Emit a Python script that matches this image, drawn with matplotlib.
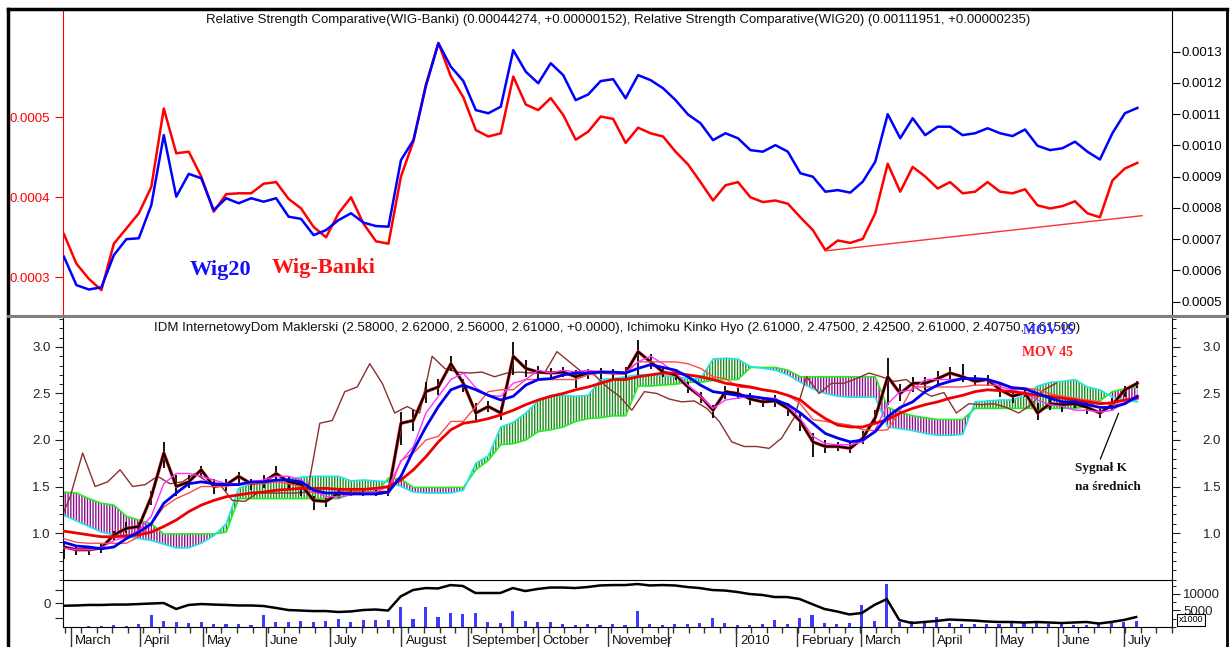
import numpy as np
import matplotlib.pyplot as plt
from matplotlib.lines import Line2D
from matplotlib.ticker import FixedLocator, MultipleLocator

plt.rcParams['font.family'] = ['Liberation Sans', 'DejaVu Sans']
plt.rcParams['hatch.linewidth'] = 1.0

# x axis = trading session counted from 25 Feb 2009, one reading every 4 sessions
day = np.arange(0, 348, 4)

# first session of each month (same session count) and its label
month_day = [2.2, 24.4, 44.6, 64.7, 85.3, 108.3, 129.5, 152.2, 174.4, 193.9,
             215.7, 235.3, 255.8, 278.8, 299.0, 318.9, 340.1]
month_lbl = ['March', 'April', 'May', 'June', 'July', 'August', 'September',
             'October', 'November', '', '2010', 'February', 'March', 'April',
             'May', 'June', 'July']

# --- top panel: relative strength comparative (values x 1e-4)
banki_rsc = np.array([
    3.54, 3.17, 2.98, 2.84, 3.42, 3.61, 3.80, 4.13, 5.11, 4.55, 4.57, 4.26, 3.82, 4.04, 4.05,
    4.05, 4.17, 4.19, 3.98, 3.86, 3.63, 3.50, 3.80, 4.00, 3.67, 3.45, 3.42, 4.26, 4.70, 5.41,
    5.93, 5.51, 5.25, 4.84, 4.76, 4.80, 5.51, 5.16, 5.09, 5.24, 5.03, 4.72, 4.82, 5.01, 4.98,
    4.68, 4.87, 4.80, 4.76, 4.57, 4.41, 4.19, 3.96, 4.15, 4.19, 4.00, 3.94, 3.96, 3.92, 3.75,
    3.59, 3.34, 3.46, 3.43, 3.48, 3.80, 4.42, 4.07, 4.38, 4.26, 4.11, 4.19, 4.05, 4.07, 4.19,
    4.07, 4.05, 4.10, 3.90, 3.86, 3.89, 3.95, 3.80, 3.75, 4.21, 4.36, 4.43]) / 1e4
wig20_rsc = np.array([
    6.44, 5.53, 5.39, 5.46, 6.49, 7.00, 7.03, 8.09, 10.33, 8.36, 9.09, 8.95, 7.93, 8.31, 8.15,
    8.31, 8.20, 8.31, 7.72, 7.65, 7.13, 7.29, 7.61, 7.83, 7.53, 7.42, 7.40, 9.53, 10.17, 11.90,
    13.27, 12.52, 12.06, 11.13, 11.03, 11.24, 13.05, 12.36, 11.99, 12.63, 12.25, 11.45, 11.63, 12.06, 12.12,
    11.51, 12.25, 12.09, 11.83, 11.45, 10.99, 10.71, 10.17, 10.39, 10.23, 9.85, 9.80, 10.01, 9.80, 9.11,
    9.00, 8.52, 8.57, 8.49, 8.84, 9.48, 11.00, 10.23, 10.87, 10.33, 10.60, 10.60, 10.33, 10.39, 10.55,
    10.39, 10.30, 10.51, 9.99, 9.85, 9.91, 10.12, 9.80, 9.55, 10.39, 11.03, 11.20]) / 1e4
trend_day = [244, 345.5]
trend_val = np.array([3.33, 3.77]) / 1e4

# --- middle panel: IDM price + averages + Ichimoku
close = [0.85, 0.82, 0.82, 0.84, 0.98, 1.05, 1.07, 1.39, 1.86, 1.50, 1.55, 1.68, 1.50, 1.52, 1.61, 1.53, 1.55, 1.64, 1.55, 1.52, 1.35, 1.34, 1.43,
         1.43, 1.43, 1.43, 1.44, 2.18, 2.21, 2.52, 2.57, 2.82, 2.61, 2.29, 2.36, 2.29, 2.90, 2.77, 2.73, 2.72, 2.73, 2.68, 2.72, 2.73, 2.72, 2.72,
         2.95, 2.84, 2.73, 2.70, 2.57, 2.47, 2.32, 2.52, 2.50, 2.44, 2.41, 2.42, 2.34, 2.20, 1.98, 1.93, 1.93, 1.91, 2.02, 2.24, 2.68, 2.50,
         2.61, 2.61, 2.66, 2.72, 2.68, 2.63, 2.65, 2.54, 2.47, 2.51, 2.29, 2.39, 2.38, 2.39, 2.35, 2.29, 2.38, 2.54, 2.61]
high = [0.88, 0.86, 0.85, 0.88, 1.02, 1.12, 1.12, 1.45, 1.98, 1.62, 1.62, 1.72, 1.58, 1.58, 1.66, 1.58, 1.62, 1.72, 1.60, 1.56, 1.40, 1.38, 1.46,
        1.46, 1.46, 1.46, 1.50, 2.30, 2.32, 2.62, 2.66, 2.90, 2.66, 2.40, 2.42, 2.36, 3.05, 2.86, 2.80, 2.77, 2.78, 2.75, 2.76, 2.77, 2.76, 2.78,
        3.08, 2.92, 2.80, 2.76, 2.62, 2.52, 2.38, 2.58, 2.56, 2.50, 2.46, 2.48, 2.40, 2.28, 2.08, 2.00, 1.98, 1.98, 2.10, 2.32, 2.88, 2.60,
        2.68, 2.68, 2.74, 2.78, 2.82, 2.70, 2.70, 2.62, 2.53, 2.56, 2.40, 2.44, 2.42, 2.45, 2.40, 2.33, 2.45, 2.58, 2.63]
low = [0.72, 0.76, 0.76, 0.78, 0.92, 1.00, 1.02, 1.30, 1.70, 1.40, 1.48, 1.60, 1.42, 1.45, 1.52, 1.46, 1.48, 1.55, 1.48, 1.40, 1.25, 1.28, 1.38,
       1.40, 1.40, 1.40, 1.40, 1.95, 2.10, 2.40, 2.48, 2.74, 2.52, 2.20, 2.30, 2.22, 2.70, 2.68, 2.66, 2.64, 2.68, 2.56, 2.66, 2.66, 2.66, 2.66,
       2.70, 2.76, 2.68, 2.64, 2.50, 2.40, 2.24, 2.44, 2.44, 2.38, 2.36, 2.36, 2.26, 2.10, 1.82, 1.86, 1.88, 1.86, 1.96, 2.18, 2.38, 2.42,
       2.52, 2.54, 2.60, 2.64, 2.62, 2.58, 2.58, 2.46, 2.40, 2.46, 2.22, 2.32, 2.30, 2.34, 2.28, 2.24, 2.32, 2.46, 2.56]
mov15 = [0.90, 0.86, 0.85, 0.83, 0.85, 0.94, 1.01, 1.10, 1.32, 1.43, 1.53, 1.55, 1.53, 1.52, 1.52, 1.55, 1.55, 1.57, 1.57, 1.55, 1.46, 1.43, 1.43,
         1.42, 1.42, 1.42, 1.44, 1.61, 1.89, 2.14, 2.36, 2.54, 2.59, 2.54, 2.48, 2.43, 2.47, 2.59, 2.65, 2.66, 2.70, 2.72, 2.72, 2.73, 2.73, 2.72,
         2.77, 2.81, 2.78, 2.75, 2.68, 2.59, 2.52, 2.50, 2.48, 2.47, 2.45, 2.43, 2.38, 2.29, 2.18, 2.07, 2.02, 1.98, 2.00, 2.09, 2.25, 2.35,
         2.41, 2.52, 2.59, 2.63, 2.66, 2.66, 2.65, 2.61, 2.56, 2.55, 2.50, 2.45, 2.41, 2.41, 2.38, 2.35, 2.35, 2.39, 2.47]
mov45 = [1.02, 1.00, 0.98, 0.96, 0.96, 0.97, 0.98, 1.01, 1.07, 1.14, 1.23, 1.30, 1.35, 1.39, 1.41, 1.43, 1.44, 1.46, 1.47, 1.48, 1.48, 1.48, 1.47,
         1.47, 1.47, 1.48, 1.50, 1.57, 1.68, 1.82, 1.98, 2.11, 2.18, 2.20, 2.23, 2.27, 2.32, 2.38, 2.43, 2.47, 2.50, 2.54, 2.57, 2.61, 2.65, 2.65,
         2.68, 2.70, 2.72, 2.72, 2.70, 2.68, 2.65, 2.61, 2.59, 2.57, 2.54, 2.52, 2.48, 2.43, 2.32, 2.23, 2.16, 2.14, 2.14, 2.18, 2.22, 2.29,
         2.34, 2.38, 2.41, 2.45, 2.48, 2.52, 2.54, 2.53, 2.52, 2.50, 2.48, 2.47, 2.45, 2.43, 2.41, 2.39, 2.40, 2.43, 2.45]
tenkan = [0.84, 0.82, 0.82, 0.84, 0.92, 0.96, 1.03, 1.18, 1.53, 1.64, 1.64, 1.61, 1.57, 1.53, 1.53, 1.55, 1.57, 1.61, 1.61, 1.57, 1.46, 1.39, 1.39,
          1.41, 1.43, 1.44, 1.50, 1.77, 1.93, 2.29, 2.47, 2.65, 2.72, 2.56, 2.48, 2.47, 2.61, 2.65, 2.75, 2.72, 2.75, 2.73, 2.75, 2.73, 2.72, 2.72,
          2.84, 2.90, 2.82, 2.72, 2.59, 2.47, 2.34, 2.43, 2.45, 2.47, 2.45, 2.45, 2.36, 2.23, 2.04, 1.96, 1.95, 1.95, 1.98, 2.11, 2.39, 2.52,
          2.54, 2.65, 2.65, 2.65, 2.66, 2.65, 2.65, 2.57, 2.54, 2.50, 2.43, 2.38, 2.36, 2.32, 2.32, 2.30, 2.32, 2.41, 2.48]
kijun = [0.94, 0.90, 0.89, 0.89, 0.89, 0.89, 0.96, 1.10, 1.28, 1.37, 1.43, 1.50, 1.50, 1.50, 1.53, 1.53, 1.53, 1.55, 1.53, 1.50, 1.43, 1.43, 1.43,
         1.43, 1.43, 1.42, 1.43, 1.78, 1.86, 2.00, 2.04, 2.20, 2.20, 2.36, 2.52, 2.54, 2.54, 2.65, 2.65, 2.65, 2.65, 2.65, 2.70, 2.72, 2.72, 2.73,
         2.84, 2.84, 2.84, 2.84, 2.82, 2.77, 2.68, 2.66, 2.57, 2.56, 2.54, 2.52, 2.48, 2.39, 2.22, 2.20, 2.18, 2.16, 2.11, 2.10, 2.11, 2.32,
         2.57, 2.57, 2.57, 2.57, 2.57, 2.59, 2.59, 2.59, 2.57, 2.56, 2.54, 2.50, 2.47, 2.45, 2.43, 2.41, 2.38, 2.39, 2.47]
senkou_a = [1.19, 1.13, 1.07, 1.01, 0.98, 0.96, 0.94, 0.92, 0.88, 0.84, 0.84, 0.89, 0.97, 1.10, 1.48, 1.53, 1.55, 1.57, 1.58, 1.60, 1.61, 1.61, 1.61,
            1.56, 1.57, 1.56, 1.55, 1.50, 1.44, 1.43, 1.43, 1.43, 1.46, 1.75, 1.83, 2.14, 2.19, 2.29, 2.42, 2.48, 2.48, 2.47, 2.48, 2.65, 2.66, 2.68,
            2.70, 2.70, 2.69, 2.68, 2.66, 2.66, 2.87, 2.88, 2.87, 2.79, 2.77, 2.75, 2.70, 2.62, 2.55, 2.50, 2.47, 2.46, 2.46, 2.46, 2.14, 2.12,
            2.10, 2.07, 2.05, 2.05, 2.06, 2.41, 2.42, 2.43, 2.43, 2.48, 2.58, 2.62, 2.63, 2.65, 2.57, 2.54, 2.46, 2.43, 2.41]
senkou_b = [1.44, 1.43, 1.37, 1.32, 1.30, 1.18, 1.14, 1.10, 0.99, 0.99, 0.99, 0.99, 0.99, 1.01, 1.37, 1.37, 1.37, 1.37, 1.37, 1.37, 1.37, 1.37, 1.37,
            1.42, 1.42, 1.43, 1.59, 1.58, 1.49, 1.49, 1.49, 1.49, 1.49, 1.68, 1.78, 1.95, 1.96, 2.00, 2.09, 2.11, 2.14, 2.20, 2.23, 2.24, 2.26, 2.26,
            2.58, 2.58, 2.59, 2.60, 2.62, 2.62, 2.64, 2.65, 2.65, 2.78, 2.78, 2.78, 2.75, 2.68, 2.68, 2.68, 2.68, 2.68, 2.68, 2.68, 2.35, 2.30,
            2.26, 2.24, 2.22, 2.22, 2.22, 2.34, 2.34, 2.34, 2.34, 2.34, 2.34, 2.34, 2.34, 2.34, 2.36, 2.42, 2.52, 2.55, 2.57]
chikou_lag = 26

# --- bottom panel: volume (x1000) and cumulative volume line
volume = [100, 100, 300, 200, 600, 300, 800, 3600, 1800, 1500, 1300, 1500, 900, 800, 1000, 600, 3600, 1500, 1400, 1700, 1600, 1800, 2300,
          1500, 2000, 2200, 2000, 6000, 2500, 6100, 3100, 4100, 3900, 4300, 1500, 1300, 4900, 1800, 1600, 1500, 900, 700, 800, 700, 900, 600,
          4900, 900, 700, 800, 900, 1200, 2600, 1100, 600, 700, 1000, 2100, 800, 2600, 3600, 1200, 1000, 1200, 6700, 1800, 13000, 1500,
          1800, 1500, 2900, 1200, 1000, 900, 800, 1000, 1200, 1500, 1300, 1000, 800, 600, 700, 900, 1400, 1500, 1800]
obv = [-0.21, -0.19, -0.15, -0.15, -0.12, -0.12, -0.08, -0.04, 0.0, -0.46, -0.15, -0.08, -0.12, -0.15, -0.19, -0.19, -0.23, -0.38, -0.54, -0.58, -0.62, -0.62, -0.69,
       -0.65, -0.54, -0.50, -0.58, 0.50, 1.0, 1.15, 1.12, 1.38, 1.31, 0.77, 0.77, 0.77, 1.15, 0.92, 1.08, 1.19, 1.19, 1.15, 1.23, 1.35, 1.38, 1.38,
       1.46, 1.35, 1.38, 1.35, 1.23, 1.15, 1.0, 0.96, 0.85, 0.69, 0.62, 0.46, 0.46, 0.31, -0.08, -0.46, -0.65, -0.88, -0.77, -0.15, 0.30, -1.31,
       -1.54, -1.46, -1.38, -1.27, -1.31, -1.35, -1.42, -1.46, -1.46, -1.50, -1.46, -1.50, -1.54, -1.50, -1.46, -1.58, -1.46, -1.31, -1.08]

title_top = ('Relative Strength Comparative(WIG-Banki) (0.00044274, +0.00000152), '
             'Relative Strength Comparative(WIG20) (0.00111951, +0.00000235)')
title_mid = ('IDM InternetowyDom Maklerski (2.58000, 2.62000, 2.56000, 2.61000, +0.0000), '
             'Ichimoku Kinko Hyo (2.61000, 2.47500, 2.42500, 2.61000, 2.40750, 2.61500)')

W, H = 1230, 647


def px_box(x0, y0, x1, y1):
    return [x0 / W, 1 - y1 / H, (x1 - x0) / W, (y1 - y0) / H]


def fx(x):
    return x / W


def fy(y):
    return 1 - y / H


fig = plt.figure(figsize=(W / 100, H / 100), dpi=100)
fig.patch.set_facecolor('white')

ax1 = fig.add_axes(px_box(63, 9, 1172, 316))
ax1r = ax1.twinx()
ax2 = fig.add_axes(px_box(63, 316, 1172, 580))
ax2r = ax2.twinx()
ax3 = fig.add_axes(px_box(63, 580, 1172, 627))
ax3r = ax3.twinx()

for a in (ax1, ax1r, ax2, ax2r, ax3, ax3r):
    a.set_xlim(-0.3, 355.1)
    for s in a.spines.values():
        s.set_visible(False)

# ---------------- top panel
ax1.plot(day, banki_rsc, color='#ff0000', lw=1.8, zorder=3, solid_joinstyle='round')
ax1.plot(trend_day, trend_val, color='#ff3030', lw=1.0, zorder=3)
ax1r.plot(day, wig20_rsc, color='#0000ff', lw=1.8, zorder=3, solid_joinstyle='round')
ax1.set_ylim(2.516e-4, 6.354e-4)
ax1r.set_ylim(4.542e-4, 14.366e-4)
ax1.set_yticks([3e-4, 4e-4, 5e-4], ['0.0003', '0.0004', '0.0005'])
rticks = np.arange(5, 14) / 1e4
ax1r.set_yticks(rticks, ['%.4f' % v for v in rticks])
ax1.set_xticks([])
ax1.tick_params(axis='y', colors='#ff0000', labelsize=9.5, length=6, pad=3)
ax1r.tick_params(axis='y', colors='black', labelsize=9.5, length=6, pad=1)
ax1.spines['left'].set_visible(True)
ax1.spines['left'].set_color('#ff0000')
ax1r.spines['right'].set_visible(True)

fig.text(fx(618), fy(20), title_top, ha='center', va='center', fontsize=9.5, color='#111111')
fig.text(fx(221), fy(270), 'Wig20', ha='center', va='center', family='Liberation Serif',
         weight='bold', fontsize=16, color='#1010ff')
fig.text(fx(324), fy(268), 'Wig-Banki', ha='center', va='center', family='Liberation Serif',
         weight='bold', fontsize=16, color='#ff1010')

# ---------------- middle panel
a_arr = np.array(senkou_a)
b_arr = np.array(senkou_b)
ax2.fill_between(day, a_arr, b_arr, where=a_arr >= b_arr, interpolate=True,
                 facecolor='none', edgecolor='#1c8c1c', hatch='||||||', linewidth=0, zorder=1)
ax2.fill_between(day, a_arr, b_arr, where=a_arr < b_arr, interpolate=True,
                 facecolor='none', edgecolor='#8c148c', hatch='||||||', linewidth=0, zorder=1)
ax2.plot(day, senkou_b, color='#22ee22', lw=1.2, zorder=2)
ax2.plot(day, senkou_a, color='#22e6e6', lw=1.2, zorder=2)
ax2.plot(day - chikou_lag, close, color='#8b3030', lw=1.0, zorder=2.5)
ax2.vlines(day, low, high, color='black', lw=1.3, zorder=3)
ax2.plot(day, close, color='#ff2020', lw=2.4, zorder=3)
ax2.plot(day, close, color='black', lw=1.5, zorder=3.1)
ax2.plot(day, kijun, color='#ff4a4a', lw=1.0, zorder=3.5)
ax2.plot(day, tenkan, color='#ff30ff', lw=1.0, zorder=3.6)
ax2.plot(day, mov45, color='#ee0000', lw=2.0, zorder=4)
ax2.plot(day, mov15, color='#0000ee', lw=2.0, zorder=4.5)

for a in (ax2, ax2r):
    a.set_ylim(0.495, 3.333)
    a.yaxis.set_major_locator(FixedLocator([1.0, 1.5, 2.0, 2.5, 3.0]))
    a.yaxis.set_minor_locator(MultipleLocator(0.1))
    a.yaxis.set_major_formatter(lambda v, p: '%.1f' % v)
ax2.set_xticks([])
ax2.tick_params(axis='y', which='major', labelsize=9.5, length=6, pad=3, colors='#222222')
ax2.tick_params(axis='y', which='minor', length=3)
ax2r.tick_params(axis='y', which='major', labelsize=9.5, length=6, pad=16, colors='#222222')
ax2r.tick_params(axis='y', which='minor', length=3)
ax2.spines['left'].set_visible(True)
ax2r.spines['right'].set_visible(True)

fig.text(fx(617), fy(328), title_mid, ha='center', va='center', fontsize=9.5, color='#111111')
fig.text(fx(1048), fy(331), 'MOV 15', ha='center', va='center', family='Liberation Serif',
         weight='bold', fontsize=10, color='#3030ff')
fig.text(fx(1047), fy(352), 'MOV 45', ha='center', va='center', family='Liberation Serif',
         weight='bold', fontsize=10, color='#ff2020')
fig.text(fx(1075), fy(468), 'Sygnał K', ha='left', va='center', family='Liberation Serif',
         weight='bold', fontsize=9.5, color='#111111')
fig.text(fx(1075), fy(487), 'na średnich', ha='left', va='center', family='Liberation Serif',
         weight='bold', fontsize=9.5, color='#111111')
ax2.annotate('', xy=(338.3, 2.315), xytext=(331.8, 1.767),
             arrowprops=dict(arrowstyle='-', color='black', lw=0.9), zorder=6)

# ---------------- bottom panel
ax3r.bar(day, volume, width=1.0, color='#3c3cff', zorder=2)
ax3.plot(day, obv, color='black', lw=1.8, zorder=3)
ax3.set_zorder(ax3r.get_zorder() + 1)
ax3.patch.set_visible(False)
ax3.set_ylim(-1.846, 1.77)
ax3.set_yticks([-1.15, 0, 1.0], ['', '0', ''])
ax3.tick_params(axis='y', labelsize=9.5, length=6, pad=3, colors='#222222')
ax3r.set_ylim(0, 14242)
ax3r.set_yticks([5000, 10000], ['5000', '10000'])
ax3r.yaxis.set_minor_locator(MultipleLocator(2500))
ax3r.tick_params(axis='y', which='major', labelsize=9.5, length=6, pad=2, colors='#222222')
ax3r.tick_params(axis='y', which='minor', length=3)
for s in ('left', 'top', 'bottom'):
    ax3.spines[s].set_visible(True)
ax3r.spines['right'].set_visible(True)

ax3.set_xticks(month_day)
ax3.set_xticklabels([])
ax3.set_xticks(np.arange(0.5, 356, 5), minor=True)
ax3.tick_params(axis='x', which='major', length=14.5, width=1, color='#333333')
ax3.tick_params(axis='x', which='minor', length=4, width=1, color='#333333')
for d, lbl in zip(month_day, month_lbl):
    ax3.text(d + 1.3, -0.30, lbl, transform=ax3.get_xaxis_transform(), ha='left',
             va='center', fontsize=9.5, color='#111111', clip_on=False)

fig.text(fx(1191), fy(620), 'x1000', ha='center', va='center', fontsize=6.5,
         bbox=dict(boxstyle='square,pad=0.2', facecolor='white', edgecolor='black', lw=0.8))

# ---------------- outer frame and panel separators
def seg(x0, y0, x1, y1, **kw):
    fig.add_artist(Line2D([fx(x0), fx(x1)], [fy(y0), fy(y1)], **kw))


seg(8, 9, 1227, 9, color='black', lw=2.5)
seg(8, 9, 8, 647, color='black', lw=2.5)
seg(1227, 9, 1227, 647, color='black', lw=2)
seg(8, 316, 1227, 316, color='#808080', lw=2.2)

fig.savefig('out.png', dpi=100, facecolor='white')
